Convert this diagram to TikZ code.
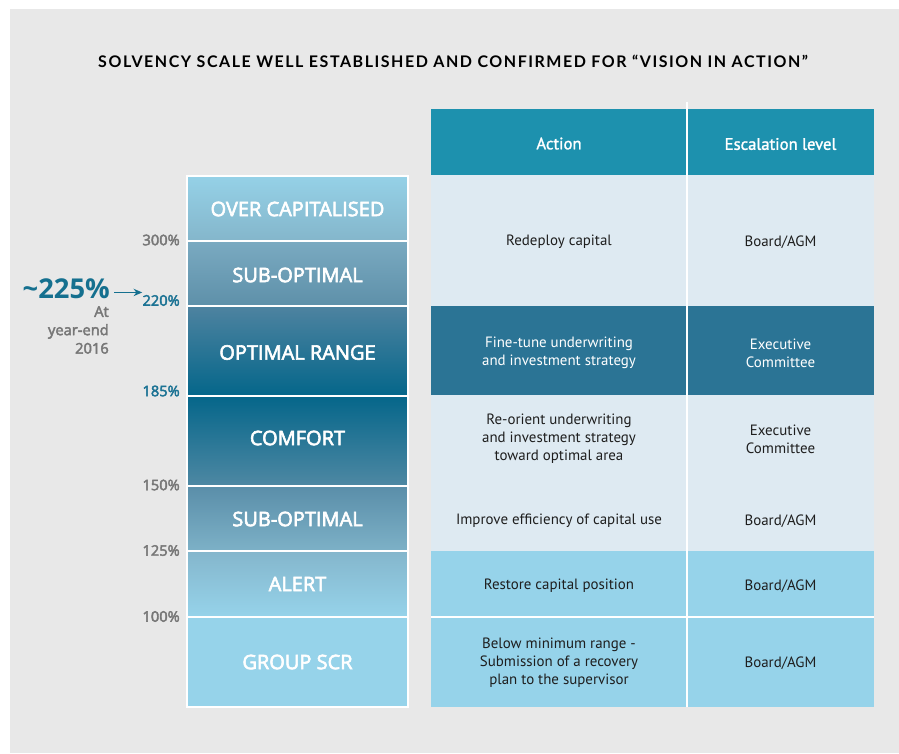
\documentclass[tikz,border=0pt]{standalone}
\usepackage{fontspec}
\setmainfont{Open Sans}
\newfontfamily\titlefont{Lato}[LetterSpace=9.6]
\newfontfamily\semifont{Open Sans}[FakeBold=3]
\newfontfamily\tablefont{PT Sans}
\newfontfamily\tableheadfont{PT Sans}[FakeBold=1.5]
\usepackage{tikz}
\usetikzlibrary{arrows.meta}
\definecolor{bgGrey}{HTML}{E8E8E8}
\definecolor{headTeal}{HTML}{1D91AE}
\definecolor{rowPale}{HTML}{DEEAF2}
\definecolor{rowDark}{HTML}{2B7495}
\definecolor{rowSky}{HTML}{96D3EA}
\definecolor{numGrey}{HTML}{777777}
\definecolor{numTeal}{HTML}{1C7394}
\definecolor{valTeal}{HTML}{15708F}
\definecolor{textDark}{HTML}{1E1E1E}

\begin{document}
\begin{tikzpicture}[x=0.75pt, y=-0.75pt,
    every node/.style={inner sep=0pt, align=center},
    band/.style={draw=white, line width=1.1pt},
    bandtext/.style={text=white, font=\semifont\fontsize{15}{17}\selectfont},
    pct/.style={anchor=east, text=numGrey, font=\semifont\fontsize{11}{13}\selectfont},
    cell/.style={text=textDark, font=\tablefont\fontsize{11.2}{13.6}\selectfont},
    headcell/.style={text=white, font=\tableheadfont\fontsize{12.5}{14}\selectfont}]
  \useasboundingbox (0,0) rectangle (899,753);
  \fill[bgGrey] (10,9) rectangle (899,753);
  % Title
  \node[font=\titlefont\bfseries\fontsize{12}{14}\selectfont] (title) at (453,61)
    {SOLVENCY SCALE WELL ESTABLISHED AND CONFIRMED FOR “VISION IN ACTION”};
  % Solvency scale
  \shade[band, top color={rgb,255:red,149;green,209;blue,231}, bottom color={rgb,255:red,132;green,182;blue,203}] (187,176) rectangle (408,241);
  \shade[band, top color={rgb,255:red,122;green,170;blue,193}, bottom color={rgb,255:red,94;green,144;blue,169}] (187,241) rectangle (408,306);
  \shade[band, top color={rgb,255:red,78;green,131;blue,160}, bottom color={rgb,255:red,4;green,102;blue,138}] (187,306) rectangle (408,396);
  \shade[band, top color={rgb,255:red,5;green,102;blue,138}, bottom color={rgb,255:red,78;green,136;blue,163}] (187,396) rectangle (408,486);
  \shade[band, top color={rgb,255:red,90;green,142;blue,169}, bottom color={rgb,255:red,125;green,177;blue,199}] (187,486) rectangle (408,551);
  \shade[band, top color={rgb,255:red,132;green,182;blue,204}, bottom color={rgb,255:red,150;green,211;blue,234}] (187,551) rectangle (408,617);
  \filldraw[band, fill=rowSky] (187,617) rectangle (408,707);
  \node[bandtext] (overcap) at (297.5,209) {OVER CAPITALISED};
  \node[bandtext] (subhigh) at (297.5,275) {SUB-OPTIMAL};
  \node[bandtext] (optimal) at (297.5,352.5) {OPTIMAL RANGE};
  \node[bandtext] (comfort) at (297.5,438) {COMFORT};
  \node[bandtext] (sublow) at (297.5,519) {SUB-OPTIMAL};
  \node[bandtext] (alert) at (297.5,584) {ALERT};
  \node[bandtext] (scr) at (297.5,662) {GROUP SCR};
  % Thresholds
  \node[pct] (p300) at (180,240) {300\%};
  \node[pct, text=numTeal] (p220) at (180,300.5) {220\%};
  \node[pct, text=numTeal] (p185) at (180,391) {185\%};
  \node[pct] (p150) at (180,485) {150\%};
  \node[pct] (p125) at (180,550.5) {125\%};
  \node[pct] (p100) at (180,616.5) {100\%};
  % Year-end value
  \node[anchor=east, text=valTeal, font=\bfseries\fontsize{20.5}{24}\selectfont] (val) at (110,289) {\textasciitilde225\%};
  \node[anchor=north east, align=right, text=numGrey, font=\semifont\fontsize{11}{13.8}\selectfont] (yearend) at (109,306) {At\\year-end\\2016};
  \coordinate (valtail) at ([yshift=-2.6pt]val.east);
  \draw[-{Stealth[length=6.5pt, width=5.5pt]}, valTeal, line width=0.8pt, shorten <=3pt] (valtail) -- (valtail -| p220.west);
  % Action table
  \fill[headTeal] (431,109) rectangle (874,175);
  \fill[rowPale] (431,175) rectangle (874,306);
  \fill[rowDark] (431,306) rectangle (874,395);
  \fill[rowPale] (431,395) rectangle (874,551);
  \fill[rowSky] (431,551) rectangle (874,707);
  \draw[white, line width=1.1pt] (431,617) -- (874,617);
  \draw[white, line width=0.9pt] (687,102) -- (687,707);
  \node[headcell] (hAction) at (559,143.5) {Action};
  \node[headcell] (hLevel) at (780.5,144) {Escalation level};
  \node[cell] (a1) at (559,242) {Redeploy capital};
  \node[cell] (e1) at (780.5,242) {Board/AGM};
  \node[cell, text=white] (a2) at (559,353) {Fine-tune underwriting\\and investment strategy};
  \node[cell, text=white] (e2) at (780.5,353) {Executive\\Committee};
  \node[cell] (a3) at (559,439) {Re-orient underwriting\\and investment strategy\\toward optimal area};
  \node[cell] (e3) at (780.5,439) {Executive\\Committee};
  \node[cell] (a4) at (559,521) {Improve efficiency of capital use};
  \node[cell] (e4) at (780.5,521) {Board/AGM};
  \node[cell] (a5) at (559,586) {Restore capital position};
  \node[cell] (e5) at (780.5,586) {Board/AGM};
  \node[cell] (a6) at (559,663) {Below minimum range -\\Submission of a recovery\\plan to the supervisor};
  \node[cell] (e6) at (780.5,663) {Board/AGM};
\end{tikzpicture}
\end{document}
